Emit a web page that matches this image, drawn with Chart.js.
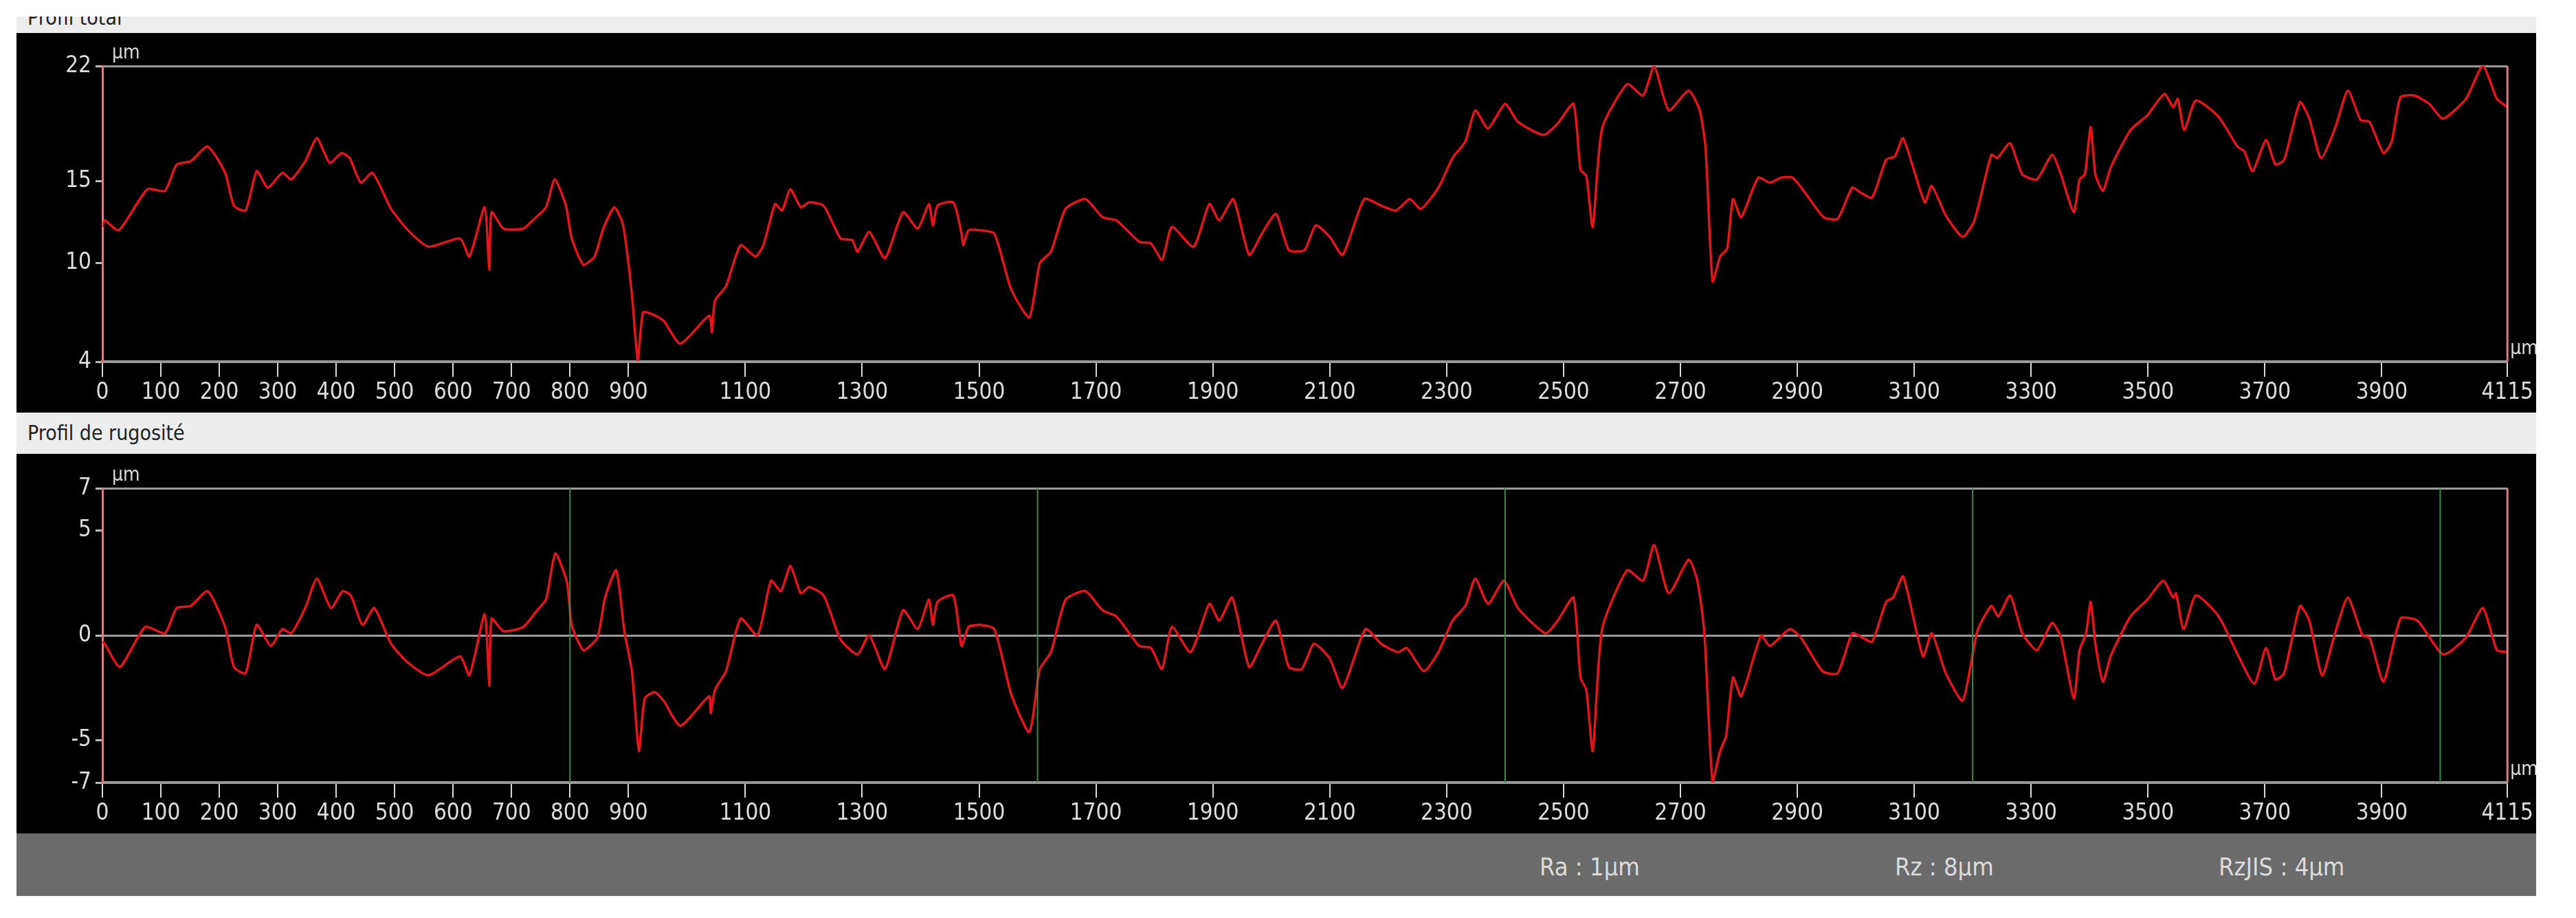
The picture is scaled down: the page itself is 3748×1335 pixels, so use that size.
<!DOCTYPE html>
<html><head><meta charset="utf-8">
<script src="https://cdn.jsdelivr.net/npm/chart.js@4/dist/chart.umd.min.js"></script>
<style>
html,body{margin:0;padding:0;background:#fff;width:3748px;height:1335px;overflow:hidden;font-family:'Liberation Sans Narrow','DejaVu Sans Condensed','Liberation Sans',sans-serif;}
.strip{position:absolute;left:24px;width:3666px;background:#ededed;color:#222;font-size:30px;overflow:hidden;}
.panel{position:absolute;left:24px;width:3666px;height:552px;background:#000;}
#bar{position:absolute;left:24px;top:1212px;width:3666px;height:91px;background:#6b6b6b;}
.st{position:absolute;top:1240px;color:#dcdcdc;font-size:36px;}
</style></head><body>
<div class="strip" style="top:24px;height:24px;"><span style="position:absolute;left:16px;top:-16px;">Profil total</span></div>
<div class="strip" style="top:600px;height:60px;"><span style="position:absolute;left:16px;top:12px;">Profil de rugosité</span></div>
<div class="panel" style="top:48px;"><canvas id="c1" width="3666" height="552"></canvas></div>
<div class="panel" style="top:660px;"><canvas id="c2" width="3666" height="552"></canvas></div>
<div id="bar"></div>
<div class="st" style="left:2240px;">Ra : 1µm</div>
<div class="st" style="left:2757px;">Rz : 8µm</div>
<div class="st" style="left:3228px;">RzJIS : 4µm</div>
<script>
const xTickLabels=[0,100,200,300,400,500,600,700,800,900,1100,1300,1500,1700,1900,2100,2300,2500,2700,2900,3100,3300,3500,3700,3900,4115];
const totalTicks=[4,10,15,22];
const roughTicks=[-7,-5,0,5,7];
const cutoffLines=[800,1600,2400,3200,4000];
const totalX=[0,4,28,77,107,127,151,180,210,225,245,264,283,308,323,347,367,389,409,423,442,462,494,523,558,612,628,654,662,666,686,720,739,759,774,793,803,823,842,857,876,891,906,916,925,940,960,989,1038,1043,1048,1067,1092,1117,1131,1151,1163,1177,1195,1209,1234,1263,1283,1292,1312,1339,1370,1395,1414,1421,1429,1456,1470,1473,1482,1502,1526,1555,1586,1604,1623,1648,1682,1711,1735,1774,1794,1813,1830,1867,1894,1911,1935,1962,1984,2008,2030,2057,2076,2100,2122,2159,2188,2213,2237,2256,2286,2310,2332,2349,2371,2400,2422,2466,2490,2517,2529,2539,2550,2566,2609,2636,2655,2680,2714,2733,2743,2755,2768,2780,2790,2804,2833,2853,2872,2892,2911,2945,2969,2994,3008,3028,3052,3067,3081,3118,3130,3154,3183,3203,3232,3242,3264,3285,3310,3336,3351,3373,3383,3392,3402,3410,3423,3436,3470,3499,3528,3543,3551,3562,3582,3621,3653,3665,3679,3702,3718,3733,3760,3776,3796,3820,3842,3864,3879,3903,3917,3932,3956,3981,4005,4044,4073,4097,4115];
const totalY=[12.2,12.6,12.0,14.5,14.4,16,16.2,17.1,15.5,13.5,13.2,15.6,14.6,15.5,15.1,16.2,17.6,16.1,16.7,16.4,14.9,15.5,13.3,12.0,11.0,11.5,10.4,13.4,9.6,13.1,12.1,12.1,12.7,13.4,15.1,13.5,11.5,9.9,10.4,12.1,13.4,12.3,8.1,4.1,7.0,6.9,6.5,5.1,6.8,5.8,7.7,8.6,11.1,10.4,11.1,13.6,13.2,14.5,13.4,13.7,13.5,11.5,11.4,10.7,11.9,10.3,13.1,12.1,13.6,12.3,13.5,13.7,11.8,11.1,12.0,12.0,11.8,8.4,6.7,10.0,10.7,13.3,13.9,12.8,12.6,11.3,11.2,10.2,12.2,11.0,13.6,12.6,13.9,10.5,11.8,13.0,10.8,10.8,12.3,11.6,10.5,13.9,13.5,13.2,13.9,13.3,14.6,16.4,17.4,19.3,18.2,19.7,18.6,17.8,18.5,19.7,15.7,15.3,12.2,18.2,20.9,20.2,22.0,19.3,20.5,19.3,17.0,8.9,10.4,10.9,13.9,12.8,15.2,14.9,15.2,15.2,14.4,12.8,12.7,14.6,14.3,14.0,16.3,16.5,17.6,13.7,14.7,12.9,11.6,12.6,16.6,16.4,17.3,15.4,15.1,16.6,15.4,13.1,15.1,15.4,18.3,15.4,14.4,15.8,18.1,19.0,20.3,19.5,20.0,18.1,19.9,18.9,17.1,16.8,15.6,17.5,16.0,16.3,19.8,18.8,16.4,18.2,20.5,18.7,18.6,16.7,17.4,20.1,20.2,19.7,18.8,20.0,22.0,20.0,19.5];
const roughX=[0,4,30,73,107,127,151,180,210,225,245,264,288,308,323,347,367,391,411,425,445,465,494,523,558,612,628,654,662,666,686,720,744,759,775,795,803,823,847,860,879,893,906,918,928,945,960,989,1038,1041,1048,1067,1092,1121,1144,1161,1177,1195,1209,1234,1263,1292,1312,1339,1370,1395,1414,1421,1429,1456,1470,1482,1502,1526,1555,1586,1604,1623,1648,1682,1711,1735,1774,1794,1813,1830,1862,1894,1911,1933,1962,1984,2008,2030,2052,2073,2100,2122,2161,2188,2217,2232,2261,2286,2310,2332,2349,2371,2398,2422,2469,2490,2517,2529,2539,2550,2566,2609,2636,2655,2680,2714,2729,2741,2755,2768,2778,2790,2804,2838,2853,2887,2906,2943,2969,2994,3011,3028,3052,3064,3081,3115,3130,3154,3183,3208,3232,3244,3264,3285,3310,3336,3351,3373,3383,3394,3402,3410,3423,3436,3470,3499,3526,3543,3548,3561,3582,3621,3655,3682,3702,3718,3733,3760,3776,3798,3820,3842,3867,3879,3903,3932,3961,4005,4044,4073,4097,4115];
const roughY=[-0.3,-0.4,-1.5,0.4,0.1,1.3,1.4,2.1,0.4,-1.5,-1.8,0.5,-0.5,0.3,0.1,1.3,2.7,1.3,2.1,1.9,0.5,1.3,-0.4,-1.3,-1.9,-1.0,-1.9,1.0,-2.4,0.8,0.2,0.4,1.2,1.7,3.9,2.5,0.5,-0.7,-0.1,1.8,3.1,0.2,-1.7,-5.5,-3.0,-2.7,-3.1,-4.3,-2.9,-3.7,-2.6,-1.7,0.8,0.0,2.6,2.1,3.3,2.0,2.3,1.9,-0.2,-0.9,0,-1.6,1.2,0.3,1.7,0.5,1.6,1.9,-0.5,0.4,0.5,0.3,-2.8,-4.6,-1.6,-0.8,1.7,2.1,1.2,0.9,-0.5,-0.6,-1.6,0.4,-0.8,1.5,0.7,1.8,-1.5,-0.4,0.7,-1.5,-1.6,-0.4,-1.1,-2.5,0.3,-0.4,-0.8,-0.6,-1.7,-0.8,0.7,1.4,2.7,1.5,2.6,1.3,0.1,0.7,1.8,-2.0,-2.6,-5.5,0.3,3.1,2.6,4.3,2.0,3.6,2.6,0.1,-7.0,-5.5,-4.8,-2.0,-2.9,0,-0.5,0.3,-0.1,-1.7,-1.8,0.1,-0.1,-0.3,1.6,1.8,2.8,-1.0,0.1,-1.8,-3.1,0.2,1.4,0.9,1.9,0.1,-0.7,0.6,-0.1,-3.0,-0.7,0.1,1.6,-0.4,-2.2,-1.0,0.9,1.7,2.6,1.8,2.0,0.3,1.9,0.9,-1.0,-2.3,-0.6,-2.1,-1.8,1.4,0.7,-1.9,0.1,1.8,0,-0.1,-2.2,0.8,0.7,-0.9,-0.1,1.3,-0.7,-0.8];

const FONT="'Liberation Sans Narrow','DejaVu Sans Condensed',sans-serif";
const deco={id:'deco',afterDraw(ch){
  const c=ch.ctx,a=ch.chartArea,x=ch.scales.x;
  c.save();
  if(ch.options.plugins.deco.green){
    c.strokeStyle='#3f8a4a';c.lineWidth=2;
    cutoffLines.forEach(v=>{const p=x.getPixelForValue(v);c.beginPath();c.moveTo(p,a.top);c.lineTo(p,a.bottom);c.stroke();});
  }
  c.strokeStyle='#e07a80';c.lineWidth=3;
  c.beginPath();c.moveTo(a.right,a.top);c.lineTo(a.right,a.bottom);c.stroke();
  c.fillStyle='#dcdcdc';c.font='28px '+FONT;c.textBaseline='bottom';c.textAlign='left';
  c.fillText('µm',a.left+14,a.top-4);
  c.fillText('µm',a.right+4,a.bottom-4);
  c.restore();
}};
function make(id,xs,ys,ticks,min,max,top,green){
  return new Chart(document.getElementById(id),{
    type:'line',
    data:{datasets:[{data:xs.map((v,i)=>({x:v,y:ys[i]})),borderColor:'#e8141c',borderWidth:3.5,pointRadius:0,tension:0.2}]},
    options:{responsive:false,animation:false,
      layout:{padding:{top:top,right:37,left:0,bottom:0}},
      plugins:{legend:{display:false},tooltip:{enabled:false},deco:{green:green}},
      scales:{
        x:{type:'linear',min:0,max:4115,
          afterBuildTicks:s=>{s.ticks=xTickLabels.map(v=>({value:v}));},
          afterFit:s=>{s.height=74;},
          grid:{drawOnChartArea:false,drawTicks:true,tickLength:22,tickColor:'#d8d8d8',lineWidth:2},
          border:{color:'#9a9a9a',width:4},
          ticks:{color:'#dcdcdc',font:{size:33,family:FONT},padding:4,maxRotation:0,autoSkip:false,callback:v=>String(v)}},
        y:{min:min,max:max,
          afterBuildTicks:s=>{s.ticks=ticks.map(v=>({value:v}));},
          afterFit:s=>{s.width=125;},
          grid:{drawTicks:true,tickLength:10,tickColor:'#bbbbbb',lineWidth:3,
            color:c=>{const v=c.tick&&c.tick.value;return (v===max||v===min||v===0)?'#9a9a9a':'rgba(0,0,0,0)';}},
          border:{color:'#e07a80',width:3},
          ticks:{color:'#dcdcdc',font:{size:33,family:FONT},padding:6,autoSkip:false,callback:v=>String(v)}}
      }},
    plugins:[deco]
  });
}
make('c1',totalX,totalY,totalTicks,4,22,48,false);
make('c2',roughX,roughY,roughTicks,-7,7,50,true);
</script></body></html>
